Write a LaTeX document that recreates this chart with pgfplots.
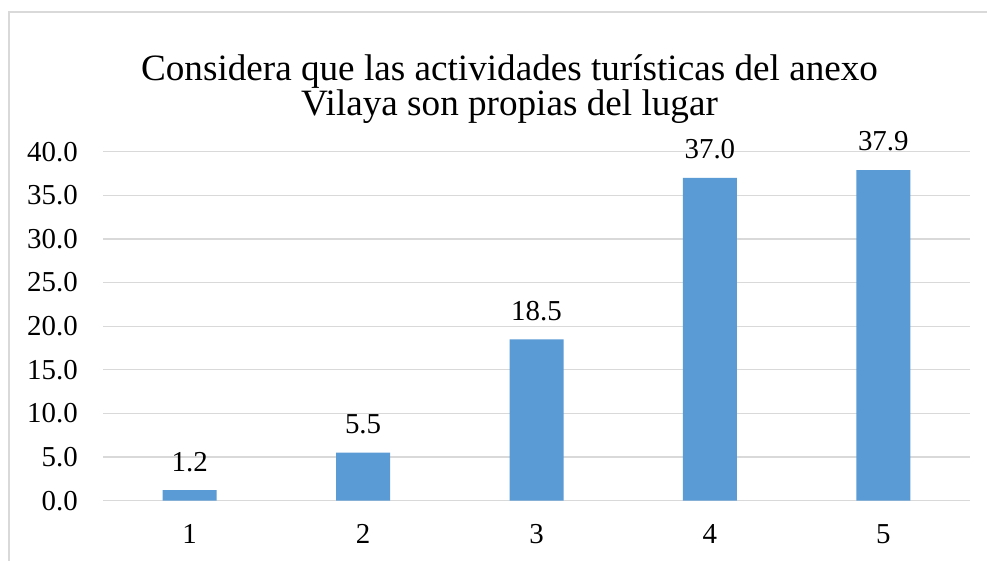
\documentclass[border=0pt]{standalone}
\usepackage{fontspec}
\setmainfont{Liberation Serif}
\usepackage{pgfplots}
\pgfplotsset{compat=1.18}
\definecolor{barblue}{HTML}{5B9BD5}
\definecolor{gridgray}{HTML}{D9D9D9}
\begin{document}
\begin{tikzpicture}[x=1bp,y=1bp]
\useasboundingbox (0,0) rectangle (987,561);
\begin{scope}
\clip (0,0) rectangle (987,561);
\fill[white] (0,0) rectangle (987,561);
\draw[gridgray, line width=1.2bp] (9,-20) -- (9,549) -- (1010,549);
\end{scope}
\node[anchor=base, inner sep=0pt, font=\fontsize{37.3}{41}\selectfont] at (509.5,480.3) {Considera que las actividades turísticas del anexo};
\node[anchor=base, inner sep=0pt, font=\fontsize{37.3}{41}\selectfont] at (509.5,445) {Vilaya son propias del lugar};
\begin{axis}[
  at={(103bp,60.3bp)}, anchor=south west,
  scale only axis, width=867bp, height=349bp,
  xmin=0.5, xmax=5.5, ymin=0, ymax=40,
  ytick={0,5,...,40},
  xtick={1,2,3,4,5},
  xticklabels={1,2,3,4,5},
  axis line style={draw=none},
  major tick length=0pt,
  ymajorgrids, grid style={gridgray, line width=1.2bp},
  ybar, bar width=54bp, bar shift=0pt,
  clip=false,
  /pgf/number format/assume math mode=true,
  tick label style={font=\fontsize{29}{34}\selectfont, inner sep=0pt},
  yticklabel style={anchor=east, xshift=-25bp, /pgf/number format/.cd, fixed, fixed zerofill, precision=1},
  xticklabel style={anchor=base, yshift=-43bp},
  nodes near coords,
  nodes near coords style={font=\fontsize{29}{34}\selectfont, inner sep=0pt, anchor=south, yshift=18.5bp, text=black, /pgf/number format/.cd, fixed, fixed zerofill, precision=1, assume math mode=true},
]
\addplot[fill=barblue, draw=none] coordinates {(1,1.2) (2,5.5) (3,18.5) (4,37.0) (5,37.9)};
\end{axis}
\end{tikzpicture}
\end{document}
